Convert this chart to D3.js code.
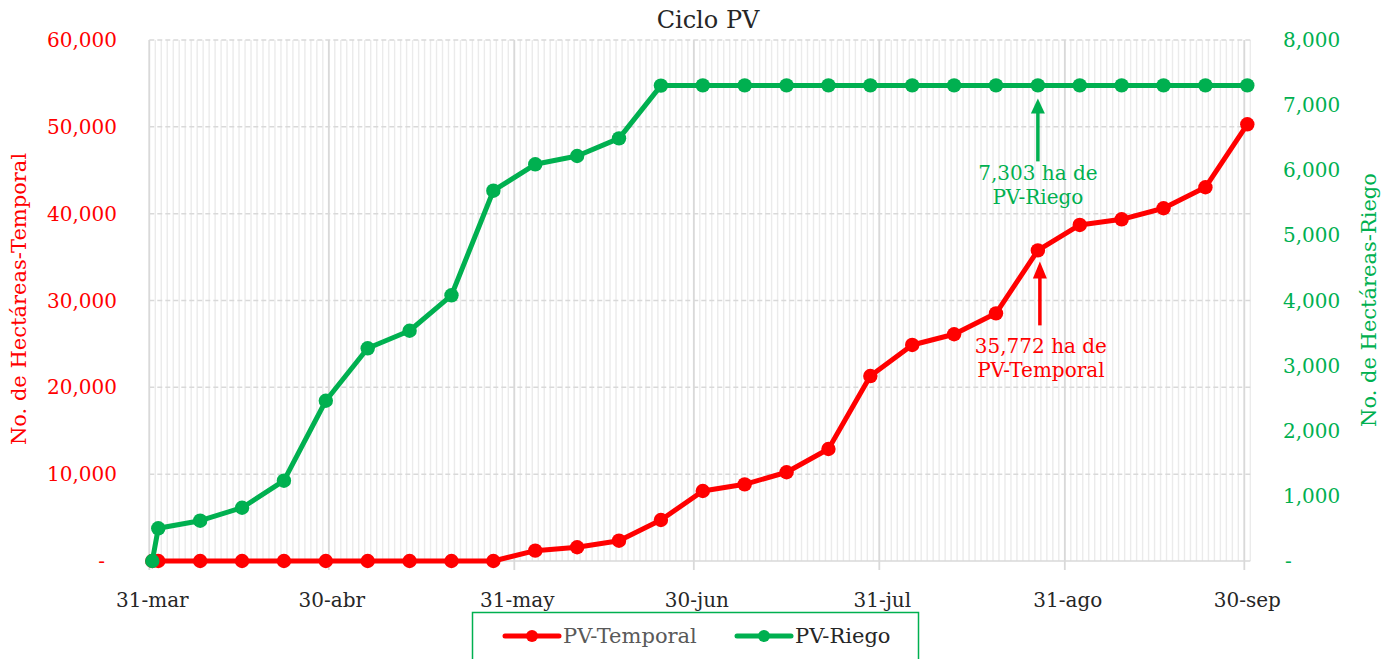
<!DOCTYPE html>
<html>
<head>
<meta charset="utf-8">
<script src="https://cdn.jsdelivr.net/npm/d3@7"></script>
<style>
  html, body { margin: 0; padding: 0; background: #fff; }
  svg { display: block; font-family: "DejaVu Serif", serif; }
</style>
</head>
<body>
<svg id="chart" width="1387" height="659"></svg>
<script>
// ---------- data ----------
const dates = ["2023-03-31","2023-04-01","2023-04-08","2023-04-15","2023-04-22","2023-04-29",
  "2023-05-06","2023-05-13","2023-05-20","2023-05-27","2023-06-03","2023-06-10","2023-06-17",
  "2023-06-24","2023-07-01","2023-07-08","2023-07-15","2023-07-22","2023-07-29","2023-08-05",
  "2023-08-12","2023-08-19","2023-08-26","2023-09-02","2023-09-09","2023-09-16","2023-09-23","2023-09-30"];
const temporal = [0, 0, 0, 0, 0, 0, 0, 0, 0, 0, 1190, 1580, 2340, 4720, 8060, 8830, 10220, 12900,
  21300, 24880, 26110, 28520, 35772, 38700, 39350, 40620, 43040, 50290];
const riego = [0, 502, 619, 818, 1233, 2461, 3266, 3536, 4080, 5686, 6091, 6219, 6490, 7300,
  7303, 7303, 7303, 7303, 7303, 7303, 7303, 7303, 7303, 7303, 7303, 7303, 7303, 7303];
const seriesNames = ["PV-Temporal", "PV-Riego"];
const xTickDates = ["2023-03-31","2023-04-30","2023-05-31","2023-06-30","2023-07-31","2023-08-31","2023-09-30"];
const xTickLabels = ["31-mar","30-abr","31-may","30-jun","31-jul","31-ago","30-sep"];
const leftTicks = [0, 10000, 20000, 30000, 40000, 50000, 60000];
const rightTicks = [0, 1000, 2000, 3000, 4000, 5000, 6000, 7000, 8000];
const title = "Ciclo PV";
const leftTitle = "No. de Hectáreas-Temporal";
const rightTitle = "No. de Hectáreas-Riego";
const annoRiego = ["7,303 ha de", "PV-Riego"];
const annoTemporal = ["35,772 ha de", "PV-Temporal"];
const annoDate = "2023-08-26";

// ---------- setup ----------
const RED = "#ff0000", GREEN = "#00b050";
const parse = d3.utcParse("%Y-%m-%d");
const noon = d => d3.utcHour.offset(parse(d), 12);
const svg = d3.select("#chart");

const x = d3.scaleUtc().domain([parse("2023-03-31"), parse("2023-10-01")]).range([149.3, 1250.3]);
const yL = d3.scaleLinear().domain([0, 60000]).range([561, 40]);
const yR = d3.scaleLinear().domain([0, 8000]).range([561, 40]);
const fmt = d3.format(",");

// minor daily grid
const days = d3.utcDay.range(parse("2023-03-31"), parse("2023-10-02"));
svg.append("g").selectAll("line").data(days).join("line")
  .attr("x1", d => x(d)).attr("x2", d => x(d))
  .attr("y1", yL(60000)).attr("y2", yL(0))
  .attr("stroke", "#ebebeb").attr("stroke-width", 1.4);

// horizontal grid
svg.append("g").selectAll("line").data(leftTicks).join("line")
  .attr("x1", x.range()[0]).attr("x2", x.range()[1])
  .attr("y1", d => yL(d)).attr("y2", d => yL(d))
  .attr("stroke", "#d9d9d9").attr("stroke-width", 1.5)
  .attr("stroke-dasharray", d => d === 0 ? null : "5,3");

// major vertical grid + ticks
svg.append("g").selectAll("line").data(xTickDates).join("line")
  .attr("x1", d => x(parse(d))).attr("x2", d => x(parse(d)))
  .attr("y1", yL(60000)).attr("y2", yL(0) + 9)
  .attr("stroke", "#d9d9d9").attr("stroke-width", 1.8);

// x labels
svg.append("g").selectAll("text").data(xTickDates).join("text")
  .attr("x", d => x(noon(d))).attr("y", 607)
  .attr("text-anchor", "middle").attr("font-size", 20).attr("fill", "#262626")
  .text((d, i) => xTickLabels[i]);

// left tick labels
svg.append("g").selectAll("text").data(leftTicks).join("text")
  .attr("x", d => d === 0 ? 105 : 117).attr("y", d => yL(d))
  .attr("dy", "0.35em").attr("text-anchor", "end")
  .attr("font-size", 20).attr("fill", RED)
  .text(d => d === 0 ? "-" : fmt(d));

// right tick labels
svg.append("g").selectAll("text").data(rightTicks).join("text")
  .attr("x", d => d === 0 ? 1285 : 1283).attr("y", d => yR(d))
  .attr("dy", "0.35em").attr("text-anchor", "start")
  .attr("font-size", 20).attr("fill", GREEN)
  .text(d => d === 0 ? "-" : fmt(d));

// titles
svg.append("text").attr("x", 708).attr("y", 28).attr("text-anchor", "middle")
  .attr("font-size", 24).attr("fill", "#262626").text(title);
svg.append("text").attr("transform", "translate(19,299) rotate(-90)")
  .attr("dy", "0.35em").attr("text-anchor", "middle")
  .attr("font-size", 21).attr("fill", RED).text(leftTitle);
svg.append("text").attr("transform", "translate(1369,300) rotate(-90)")
  .attr("dy", "0.35em").attr("text-anchor", "middle")
  .attr("font-size", 21).attr("fill", GREEN).text(rightTitle);

// series
const series = [
  { name: seriesNames[0], values: temporal, y: yL, color: RED },
  { name: seriesNames[1], values: riego, y: yR, color: GREEN }
];
series.forEach(s => {
  const pts = dates.map((d, i) => [x(noon(d)), s.y(s.values[i])]);
  svg.append("path").attr("d", d3.line()(pts))
    .attr("fill", "none").attr("stroke", s.color).attr("stroke-width", 5)
    .attr("stroke-linejoin", "round");
  svg.append("g").selectAll("circle").data(pts).join("circle")
    .attr("cx", d => d[0]).attr("cy", d => d[1]).attr("r", 7.2).attr("fill", s.color);
});

// annotations
function arrow(cx, tipY, baseY, bottomY, color) {
  svg.append("line").attr("x1", cx).attr("x2", cx).attr("y1", baseY - 1).attr("y2", bottomY)
    .attr("stroke", color).attr("stroke-width", 3.5);
  svg.append("path")
    .attr("d", `M${cx},${tipY} L${cx - 7},${baseY} L${cx + 7},${baseY} Z`)
    .attr("fill", color);
}
const ai = dates.indexOf(annoDate);
const ax = x(noon(annoDate));
const gY = yR(riego[ai]);
arrow(ax, gY + 13, gY + 28, gY + 76, GREEN);
annoRiego.forEach((t, i) => svg.append("text").attr("x", ax).attr("y", gY + 95 + i * 24)
  .attr("text-anchor", "middle").attr("font-size", 20).attr("fill", GREEN).text(t));
const rY = yL(temporal[ai]);
arrow(ax + 2, rY + 11, rY + 28, rY + 75, RED);
annoTemporal.forEach((t, i) => svg.append("text").attr("x", ax + 3).attr("y", rY + 103 + i * 24)
  .attr("text-anchor", "middle").attr("font-size", 20).attr("fill", RED).text(t));

// legend
const lg = svg.append("g");
lg.append("rect").attr("x", 472.5).attr("y", 612.5).attr("width", 446).attr("height", 60)
  .attr("fill", "#fff").attr("stroke", GREEN).attr("stroke-width", 1.5);
const legendItems = [
  { x0: 505, name: seriesNames[0], color: RED, text: "#595959" },
  { x0: 737, name: seriesNames[1], color: GREEN, text: "#262626" }
];
legendItems.forEach(it => {
  lg.append("line").attr("x1", it.x0).attr("x2", it.x0 + 54).attr("y1", 636).attr("y2", 636)
    .attr("stroke", it.color).attr("stroke-width", 5).attr("stroke-linecap", "round");
  lg.append("circle").attr("cx", it.x0 + 27).attr("cy", 636).attr("r", 6).attr("fill", it.color);
  lg.append("text").attr("x", it.x0 + 58).attr("y", 643).attr("font-size", 21)
    .attr("fill", it.text).text(it.name);
});
</script>
</body>
</html>
